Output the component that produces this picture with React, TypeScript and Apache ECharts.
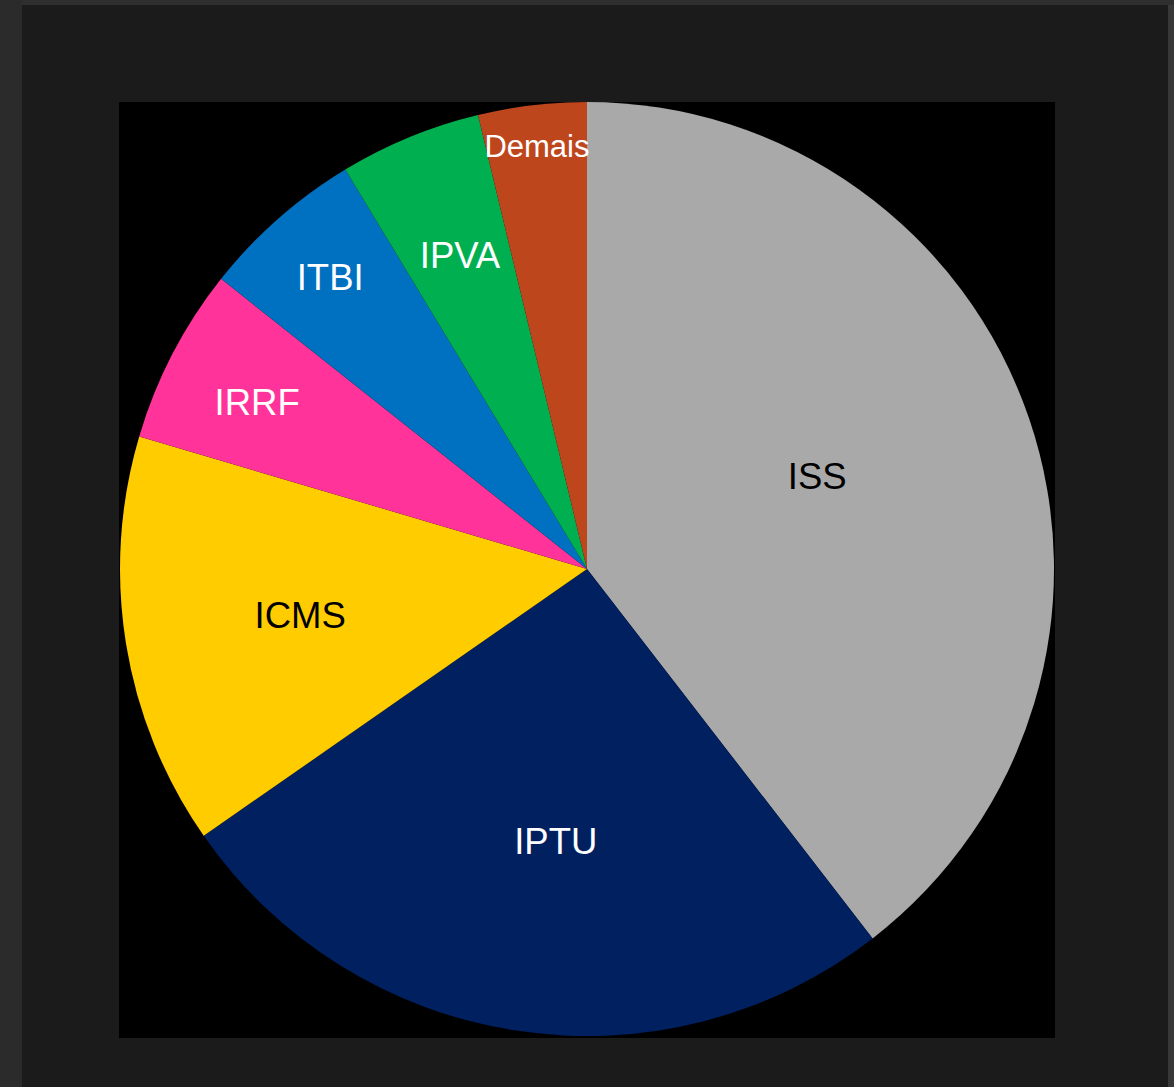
import React, { useEffect, useRef } from 'react';
import * as echarts from 'echarts';

const categories = ['ISS', 'IPTU', 'ICMS', 'IRRF', 'ITBI', 'IPVA', 'Demais'];
const shares = [39.53, 25.8, 14.26, 6.09, 5.67, 4.91, 3.75];
const sliceColors = ['#a9a9a9', '#002060', '#ffcc00', '#ff3399', '#0070c0', '#00b050', '#be461d'];
const labelColors = ['#000000', '#ffffff', '#000000', '#ffffff', '#ffffff', '#ffffff', '#ffffff'];
const labelSizes = [36.5, 36.5, 36.5, 36.5, 36.5, 36.5, 31];
// label placement: fraction of radius and small angular shift (degrees)
const labelRadius = [0.531, 0.588, 0.622, 0.791, 0.832, 0.725, 0.912];
const labelAngleShift = [-3, -2.2, 0, -0.7, 0, 0.3, 0];

const W = 1174;
const H = 1087;
const CX = 587;
const CY = 569;
const R = 467;

export default function App() {
  const ref = useRef<HTMLDivElement>(null);
  useEffect(() => {
    if (!ref.current) return;
    const chart = echarts.init(ref.current, null, { renderer: 'svg', width: W, height: H });
    const total = shares.reduce((a, b) => a + b, 0);
    const mids: number[] = [];
    let cum = 0;
    shares.forEach((s) => {
      mids.push(((cum + s / 2) / total) * 360);
      cum += s;
    });
    chart.setOption({
      animation: false,
      backgroundColor: '#1b1b1b',
      graphic: [
        { type: 'rect', shape: { x: 0, y: 0, width: 22, height: H }, style: { fill: '#2b2b2b' }, silent: true },
        { type: 'rect', shape: { x: 22, y: 0, width: W - 22, height: 5 }, style: { fill: '#2f2f2f' }, silent: true },
        { type: 'rect', shape: { x: 1168, y: 5, width: 6, height: H - 5 }, style: { fill: '#383838' }, silent: true },
        { type: 'rect', shape: { x: 119, y: 102, width: 936, height: 936 }, style: { fill: '#000000' }, silent: true },
      ],
      series: [
        {
          type: 'pie',
          center: [CX, CY],
          radius: [0, R],
          startAngle: 90,
          clockwise: true,
          avoidLabelOverlap: false,
          minShowLabelAngle: 0,
          labelLine: { show: false },
          emphasis: { disabled: true },
          label: {
            show: true,
            position: 'inside',
            fontFamily: '"Liberation Sans", Arial, sans-serif',
            formatter: '{b}',
          },
          labelLayout: (params: any) => {
            const i = params.dataIndex;
            const a = ((mids[i] + labelAngleShift[i]) * Math.PI) / 180;
            const d = R * labelRadius[i];
            return {
              x: CX + d * Math.sin(a),
              y: CY - d * Math.cos(a),
              align: 'center',
              verticalAlign: 'middle',
            };
          },
          data: categories.map((name, i) => ({
            name,
            value: shares[i],
            itemStyle: { color: sliceColors[i] },
            label: { color: labelColors[i], fontSize: labelSizes[i] },
          })),
        },
      ],
    });
    return () => chart.dispose();
  }, []);
  return <div ref={ref} style={{ position: 'fixed', left: 0, top: 0, width: W, height: H }} />;
}
